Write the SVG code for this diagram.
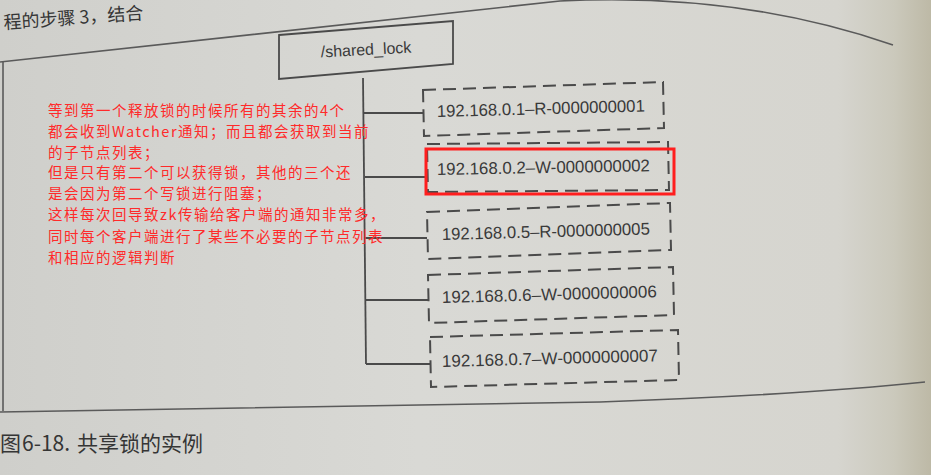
<svg xmlns="http://www.w3.org/2000/svg" width="931" height="475" viewBox="0 0 931 475">
<defs>
<linearGradient id="page" x1="0" y1="0" x2="1" y2="0">
<stop offset="0" stop-color="#cfcfcb"/>
<stop offset="0.45" stop-color="#d9d9d5"/>
<stop offset="0.9" stop-color="#d6d5cf"/>
<stop offset="0.96" stop-color="#cbc9bc"/>
<stop offset="1" stop-color="#bdb9a6"/>
</linearGradient>
</defs>
<style>
.frame{fill:none;stroke:#5a5a5a;stroke-width:1.6}
.conn{fill:none;stroke:#4a4a4a;stroke-width:1.8}
.child{fill:none;stroke:#4a4a4a;stroke-width:2;stroke-dasharray:13 7}
.root{fill:none;stroke:#4a4a4a;stroke-width:1.8}
.lbl{font-family:"Liberation Sans",Arial,sans-serif;fill:#3a3a3a}
.note{font-family:"Noto Sans CJK SC",sans-serif;font-size:14.5px;letter-spacing:1.5px;fill:#ff2a2a}
.cap{font-family:"Noto Sans CJK SC",sans-serif;fill:#353535}
</style>
<rect x="0" y="0" width="931" height="475" fill="url(#page)"/>
<text class="cap" x="4" y="29" font-size="18" transform="rotate(-4 4 29)">程的步骤 3，结合</text>
<path class="frame" d="M0,62 L560,1 Q740,-8 893,45"/>
<path class="frame" d="M3,62 L3,411"/>
<path class="frame" d="M0,412 L600,402 Q800,395 925,382"/>
<g id="connectors">
<path class="conn" d="M363,78 L366,364"/>
<path class="conn" d="M364,113 L424,113"/>
<path class="conn" d="M365,177 L426,177"/>
<path class="conn" d="M365,238 L427,238"/>
<path class="conn" d="M366,300 L428,300"/>
<path class="conn" d="M366,364 L430,364"/>
</g>
<g id="root">
<polygon class="root" points="279,35 453,21 453,64 279,79"/>
<text class="lbl" x="366" y="55" font-size="16" text-anchor="middle" transform="rotate(-3 366 50)">/shared_lock</text>
</g>
<g id="n1">
<polygon class="child" points="423,90 663,82 664,128 424,136"/>
<text class="lbl" x="437" y="117" font-size="17" textLength="208" lengthAdjust="spacingAndGlyphs" transform="rotate(-1.5 437 117)">192.168.0.1–R-0000000001</text>
</g>
<g id="n2">
<polygon class="child" points="427,144 668,142 669,190 428,192"/>
<rect x="426" y="149" width="248" height="45" fill="none" stroke="#ff1e1e" stroke-width="3"/>
<text class="lbl" x="437" y="175" font-size="17" textLength="213" lengthAdjust="spacingAndGlyphs" transform="rotate(-1 437 175)">192.168.0.2–W-0000000002</text>
</g>
<g id="n3">
<polygon class="child" points="427,212 670,203 671,250 428,259"/>
<text class="lbl" x="442" y="240" font-size="17" textLength="208" lengthAdjust="spacingAndGlyphs" transform="rotate(-1.5 442 240)">192.168.0.5–R-0000000005</text>
</g>
<g id="n4">
<polygon class="child" points="428,275 673,267 674,315 429,323"/>
<text class="lbl" x="442" y="303" font-size="17" textLength="215" lengthAdjust="spacingAndGlyphs" transform="rotate(-1.5 442 303)">192.168.0.6–W-0000000006</text>
</g>
<g id="n5">
<polygon class="child" points="430,337 678,330 679,380 431,387"/>
<text class="lbl" x="442" y="367" font-size="17" textLength="216" lengthAdjust="spacingAndGlyphs" transform="rotate(-1.5 442 367)">192.168.0.7–W-0000000007</text>
</g>
<g id="note">
<text class="note" x="48" y="116">等到第一个释放锁的时候所有的其余的4个</text>
<text class="note" x="48" y="137">都会收到Watcher通知；而且都会获取到当前</text>
<text class="note" x="48" y="158">的子节点列表；</text>
<text class="note" x="48" y="178">但是只有第二个可以获得锁，其他的三个还</text>
<text class="note" x="48" y="199">是会因为第二个写锁进行阻塞；</text>
<text class="note" x="48" y="220">这样每次回导致zk传输给客户端的通知非常多，</text>
<text class="note" x="48" y="242">同时每个客户端进行了某些不必要的子节点列表</text>
<text class="note" x="48" y="263">和相应的逻辑判断</text>
</g>
<g id="caption">
<text class="cap" y="451" font-size="21"><tspan x="0">图</tspan><tspan x="22">6-18.</tspan><tspan x="77">共享锁的实例</tspan></text>
</g>
</svg>
